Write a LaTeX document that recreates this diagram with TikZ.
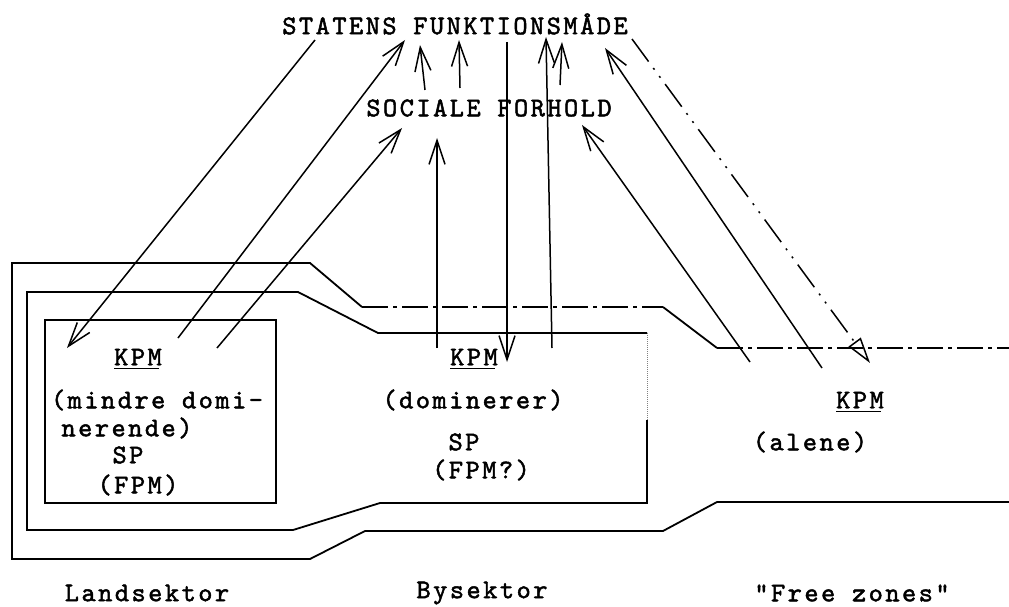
\documentclass[tikz,border=0pt]{standalone}
\usepackage{fontspec}
\newfontfamily\typew{lmmono10-regular.otf}[FakeBold=1.8,LetterSpace=9.3]
\usetikzlibrary{arrows.meta}
\begin{document}
\begin{tikzpicture}[x=1pt,y=-1pt,
  lbl/.style={inner sep=0pt, font={\typew\fontsize{27}{30}\selectfont}},
  shp/.style={line width=1.8pt, line join=miter},
  ln/.style={line width=1.5pt},
  arr/.style={ln, -{Straight Barb[length=24pt,width=16pt]}},
  tri/.style={ln, -{Triangle[open,length=26pt,width=15pt]}},
  dashdot/.style={dash pattern=on 26pt off 5pt on 4pt off 5pt},
  dashdotdot/.style={dash pattern=on 28pt off 8pt on 2pt off 8pt on 2pt off 8pt},
  ul/.style={line width=1.2pt}]
\useasboundingbox (0,0) rectangle (1009,607);

% ---- headings
\node[lbl] (staten) at (455,24) {STATENS FUNKTIONSMÅDE};
\node[lbl] (social) at (489,108) {SOCIALE FORHOLD};

% ---- sector labels
\node[lbl] (land) at (147,593) {Landsektor};
\node[lbl] (by)   at (482,593) {Bysektor};
\node[lbl] (free) at (852,593) {"Free zones"};

% ---- outer shape
\draw[shp] (1009,502) -- (717,502) -- (663,531) -- (365,531) -- (310,559)
  -- (12,559) -- (12,263) -- (310,263) -- (362,307);
\draw[shp,dashdot] (362,307) -- (663,307);
\draw[shp] (663,307) -- (717,348);
\draw[shp,dashdot] (717,348) -- (1009,348);

% ---- middle shape
\draw[shp] (647,420) -- (647,503) -- (380,503) -- (293,530) -- (27,530)
  -- (27,292) -- (298,292) -- (378,333) -- (647,333);
\draw[line width=1pt, gray, densely dotted] (647,333) -- (647,420);

% ---- inner box
\draw[shp] (45,320) rectangle (276,503);

% ---- box texts (Landsektor)
\node[lbl] (kpmL) at (138,357) {KPM};
\node[lbl] (mdL1) at (157,400) {(mindre domi-};
\node[lbl] (mdL2) at (127,428) {nerende)};
\node[lbl] (spL)  at (128,455) {SP};
\node[lbl] (fpmL) at (138,485) {(FPM)};
% ---- Bysektor
\node[lbl] (kpmB) at (474,357) {KPM};
\node[lbl] (domB) at (473,400) {(dominerer)};
\node[lbl] (spB)  at (464,442) {SP};
\node[lbl] (fpmB) at (481,470) {(FPM?)};
% ---- Free zones
\node[lbl] (kpmF) at (860,400) {KPM};
\node[lbl] (alF)  at (810,442) {(alene)};

\foreach \n in {kpmL,kpmB,kpmF}
  \draw[ul] ([yshift=-3pt]\n.south west) -- ([yshift=-3pt,xshift=-2.5pt]\n.south east);

% ---- arrow end points
\coordinate (a1s) at (315,40);  \coordinate (a1e) at (67,348);
\coordinate (a2s) at (178,338); \coordinate (a2e) at (405,40);
\coordinate (a3s) at (217,348); \coordinate (a3e) at (402,128);
\coordinate (a4s) at (425,90);  \coordinate (a4e) at (420,45);
\coordinate (a5s) at (460,88);  \coordinate (a5e) at (459,40);
\coordinate (a6s) at (437,348); \coordinate (a6e) at (437,138);
\coordinate (a7s) at (507,42);  \coordinate (a7e) at (507,362);
\coordinate (a8s) at (552,348); \coordinate (a8e) at (546,37);
\coordinate (a9s) at (560,85);  \coordinate (a9e) at (562,42);
\coordinate (a10s) at (750,362); \coordinate (a10e) at (582,125);
\coordinate (a11s) at (822,368); \coordinate (a11e) at (605,48);
\coordinate (a12s) at (632,39); \coordinate (a12e) at (870,363);

\draw[arr] (a1s) -- (a1e);
\draw[arr] (a2s) -- (a2e);
\draw[arr] (a3s) -- (a3e);
\draw[arr] (a4s) -- (a4e);
\draw[arr] (a5s) -- (a5e);
\draw[arr] (a6s) -- (a6e);
\draw[arr] (a7s) -- (a7e);
\draw[arr] (a8s) -- (a8e);
\draw[arr] (a9s) -- (a9e);
\draw[arr] (a10s) -- (a10e);
\draw[arr] (a11s) -- (a11e);
\draw[tri,dashdotdot] (a12s) -- (a12e);
\end{tikzpicture}
\end{document}
